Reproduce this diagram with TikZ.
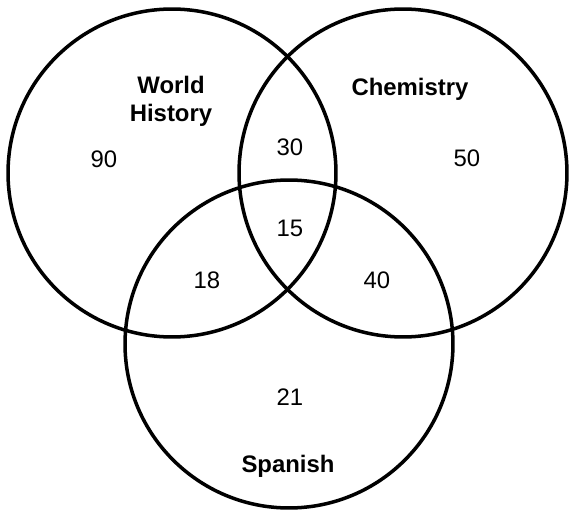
\documentclass[tikz,border=0pt]{standalone}
\usepackage{fontspec}
\setmainfont{Liberation Sans}
\usetikzlibrary{positioning}

\begin{document}
\begin{tikzpicture}[
  x=0.02cm, y=-0.02cm,
  every node/.style={font=\fontsize{13.6}{16}\selectfont},
  setring/.style={circle, draw=black, line width=2pt, inner sep=0pt,
                  minimum size=6.56cm},
  setname/.style={font=\fontsize{13.6}{16}\selectfont\bfseries, align=center},
  count/.style={inner sep=1pt},
]
  \useasboundingbox (0,0) rectangle (569,510);

  % the three sets
  \node[setring] (hist) at (172,173) {};
  \node[setring] (chem) at (403,173) {};
  \node[setring] (span) at (289,344) {};

  % set names
  \node[setname] (histname) at (171,101) {World\\History};
  \node[setname] (chemname) at (410,89) {Chemistry};
  \node[setname] (spanname) at (288,466) {Spanish};

  % region counts
  \node[count] (onlyhist) at (104,159) {90};
  \node[count] (histchem) at (290,147) {30};
  \node[count] (onlychem) at (467,158) {50};
  \node[count] (allthree) at (290,228) {15};
  \node[count] (histspan) at (207,280) {18};
  \node[count] (chemspan) at (377,280) {40};
  \node[count] (onlyspan) at (290,397) {21};
\end{tikzpicture}
\end{document}
